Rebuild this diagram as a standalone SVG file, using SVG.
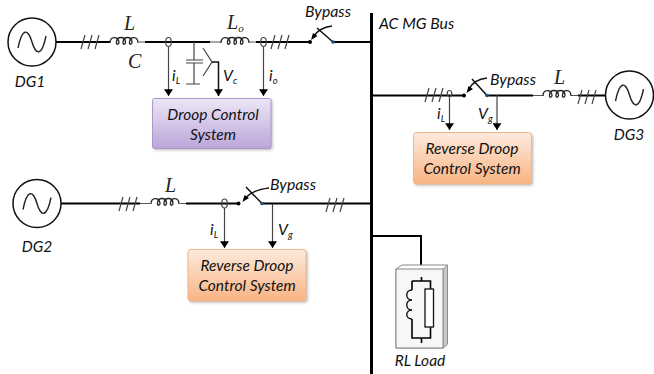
<svg xmlns="http://www.w3.org/2000/svg" width="654" height="374" viewBox="0 0 654 374">
<style>
.w{fill:none;stroke:#000;stroke-width:2}
.t{fill:none;stroke:#444;stroke-width:1.2}
.g{fill:none;stroke:#555;stroke-width:1.2}
.s{fill:none;stroke:#111;stroke-width:1.5}
.x{font-family:"Lato","Open Sans",sans-serif;font-style:italic;font-size:15.800px;fill:#111}
.b{font-size:15.500px;text-anchor:middle}
.m{font-family:"Liberation Serif",serif;font-style:italic;font-size:20px;fill:#222}
.u{font-size:9.500px}
.box{stroke-width:1}
</style>
<defs>
<linearGradient id="pur" x1="0" y1="0" x2="0" y2="1"><stop offset="0" stop-color="#ece6f5"/><stop offset="1" stop-color="#bba6da"/></linearGradient>
<linearGradient id="ora" x1="0" y1="0" x2="0" y2="1"><stop offset="0" stop-color="#fdeadd"/><stop offset="1" stop-color="#f8b483"/></linearGradient>
<filter id="sh" x="-10%" y="-10%" width="120%" height="125%"><feGaussianBlur stdDeviation="1.500"/></filter>
<marker id="ad" markerWidth="9" markerHeight="8" refX="4" refY="6" viewBox="0 0 8 6" orient="0" markerUnits="userSpaceOnUse"><path d="M0 0H8L4 6z" fill="#000"/></marker>
<path id="sine" d="M-14 6C-10 -14 -4 -14 0 0S10 14 14 -6" fill="none" stroke="#222" stroke-width="1.400"/>
<path id="ind" d="M0 0C0 -7 8 -7 9 -1C9 2 6 2 6.500 -1C7 -7 15 -7 15.500 -1C15.500 2 12.500 2 13 -1C13.500 -7 21.500 -7 22 -1C22 2 19 2 19.500 -1C20 -7 28 -7 28 0" fill="none" stroke="#222" stroke-width="1.300"/>
<path id="hash" d="M-9 7L-5 -7M-2 7L2 -7M5 7L9 -7" fill="none" stroke="#444" stroke-width="1.200"/>
</defs>

<g id="connectors">
<path d="M371.500 13V374" fill="none" stroke="#000" stroke-width="3"/>
<path class="w" d="M56 42H110M145 42H210M256 42H310M333 42H371"/>
<path class="w" d="M61 203.500H140M186 203.500H238M262 203.500H371"/>
<path class="w" d="M372 95.500H464M487 95.500H533M578 95.500H605"/>
<path class="w" d="M371 236H421V265"/>
<path class="g" d="M139 42H145M210 42H221M250 42H256M533 95.500H543M571 95.500H578M140 203.500H150M180 203.500H186"/>
<use href="#hash" x="90" y="42"/><use href="#hash" x="280" y="42"/>
<use href="#hash" x="128" y="204"/><use href="#hash" x="335" y="205"/>
<use href="#hash" x="434" y="95"/><use href="#hash" x="587" y="97"/>
<use href="#ind" x="110" y="43"/><use href="#ind" x="221" y="43"/>
<use href="#ind" x="151" y="204"/><use href="#ind" x="543" y="96"/>
<ellipse class="t" cx="168.500" cy="42" rx="2.800" ry="4.500"/>
<ellipse class="t" cx="263.500" cy="42" rx="2.800" ry="4.500"/>
<ellipse class="t" cx="224.500" cy="203.500" rx="2.800" ry="4.500"/>
<ellipse class="t" cx="449.500" cy="93.500" rx="2.300" ry="3"/>
<path class="t" d="M168.500 46V96" marker-end="url(#ad)"/>
<path class="t" d="M263.500 46V96" marker-end="url(#ad)"/>
<path class="t" d="M224.500 208V248" marker-end="url(#ad)"/>
<path class="t" d="M272.500 204V248" marker-end="url(#ad)"/>
<path class="t" d="M449.500 97V130" marker-end="url(#ad)"/>
<path class="t" d="M497 95V130" marker-end="url(#ad)"/>
<path class="t" d="M194 42V60M186 60H203M186 63H203M194 63V84M186 84H200"/>
<path class="t" d="M203 48L212 62L203 76"/>
<path class="s" d="M212 62H218.500V96" marker-end="url(#ad)"/>
<path class="s" d="M333 42L317 28M262 203.500L246 187M487 95.500L472 79"/>
<path class="s" d="M332 26C323 27 317 31 313 37M269 188C260 189 250 192 245 199M487 78C478 79 472 83 469 89"/>
<path d="M311 40L317.500 36L313 33z M242.500 202L249 198L244.500 195z M466.500 93L473 89L468.500 86z" fill="#000"/>
<circle cx="310" cy="42" r="2" fill="#000"/><circle cx="333" cy="42" r="1.800" fill="#1f4e79"/>
<circle cx="238.500" cy="203.500" r="2" fill="#000"/><circle cx="262" cy="203.500" r="1.800" fill="#1f4e79"/>
<circle cx="464" cy="95.500" r="2" fill="#000"/><circle cx="487" cy="95.500" r="1.800" fill="#1f4e79"/>
</g>

<g id="dg1"><circle cx="32" cy="42" r="24" fill="#fff" stroke="#111" stroke-width="1.500"/><use href="#sine" x="32" y="42"/><text class="x b" x="30" y="87">DG1</text></g>
<g id="dg2"><circle cx="37" cy="203.500" r="24" fill="#fff" stroke="#111" stroke-width="1.500"/><use href="#sine" x="37" y="203.500"/><text class="x b" x="37" y="252">DG2</text></g>
<g id="dg3"><circle cx="629.500" cy="95" r="24" fill="#fff" stroke="#111" stroke-width="1.500"/><use href="#sine" x="629.500" y="95"/><text class="x b" x="629" y="140">DG3</text></g>

<g id="droop"><rect x="154" y="100" width="118.500" height="50" rx="2" fill="#888" opacity=".6" filter="url(#sh)"/><rect class="box" x="152.500" y="98.500" width="118.500" height="50" rx="2" fill="url(#pur)" stroke="#a899c8"/><text class="x b" x="213" y="120">Droop Control</text><text class="x b" x="213" y="140">System</text></g>
<g id="reverse3"><rect x="415" y="134" width="118" height="51.500" rx="2" fill="#888" opacity=".6" filter="url(#sh)"/><rect class="box" x="413.500" y="132.500" width="118" height="51.500" rx="3" fill="url(#ora)" stroke="#f2b48a"/><text class="x b" x="472" y="154">Reverse Droop</text><text class="x b" x="472" y="174">Control System</text></g>
<g id="reverse2"><rect x="189.500" y="251" width="118" height="51.500" rx="2" fill="#888" opacity=".6" filter="url(#sh)"/><rect class="box" x="188" y="249.500" width="118" height="51.500" rx="3" fill="url(#ora)" stroke="#f2b48a"/><text class="x b" x="247" y="271">Reverse Droop</text><text class="x b" x="247" y="291">Control System</text></g>

<g id="load">
<path d="M396 269L402 265H447.500V344L443 348H396z" fill="#fff" stroke="#888" stroke-width="1"/>
<path d="M443 269L447.500 265V344L443 348z" fill="#c8c8c8" stroke="#888" stroke-width=".8"/>
<rect x="396" y="269" width="47" height="79" fill="#f7f7f7" stroke="#888" stroke-width="1"/>
<path d="M421.500 277V281M412 281H430.500V289M412 281V290M412 319V338H430.500V327M421.500 338V343" fill="none" stroke="#000" stroke-width="1.600"/>
<path d="M412 290C405 290 405 300 412 300C405 300 405 310 412 310C405 310 405 319 412 319" fill="none" stroke="#111" stroke-width="1.400"/>
<rect x="425" y="289" width="8.500" height="38" fill="#fff" stroke="#111" stroke-width="1.300"/>
<text class="x b" x="420" y="366">RL Load</text>
</g>

<g id="labels">
<text class="m" x="124" y="30">L</text>
<text class="m" x="128" y="68">C</text>
<text class="m" x="227" y="29">L<tspan dy="3" style="font-size:11px">o</tspan></text>
<text class="m" x="554" y="84">L</text>
<text class="m" x="165" y="192">L</text>
<text class="x" x="305" y="17">Bypass</text>
<text class="x" x="490" y="85">Bypass</text>
<text class="x" x="270" y="190">Bypass</text>
<text class="x" x="379" y="29">AC MG Bus</text>
<text class="x" x="172" y="81">i<tspan class="u" dy="3">L</tspan></text>
<text class="x" x="269" y="81">i<tspan class="u" dy="3">o</tspan></text>
<text class="x" x="223" y="81">V<tspan class="u" dy="3">c</tspan></text>
<text class="x" x="210" y="235">i<tspan class="u" dy="3">L</tspan></text>
<text class="x" x="278" y="235">V<tspan class="u" dy="3">g</tspan></text>
<text class="x" x="437" y="119">i<tspan class="u" dy="3">L</tspan></text>
<text class="x" x="478" y="119">V<tspan class="u" dy="3">g</tspan></text>
</g>
</svg>
